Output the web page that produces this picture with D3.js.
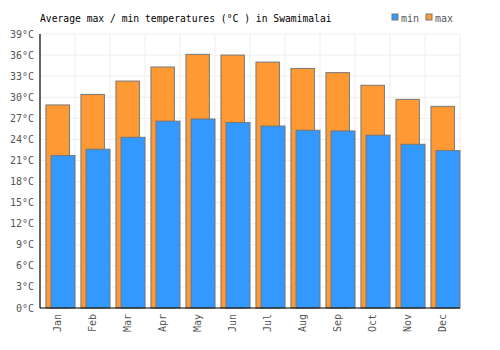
<!DOCTYPE html>
<html>
<head>
<meta charset="utf-8">
<script src="https://cdn.jsdelivr.net/npm/d3@7"></script>
<style>
  body { margin: 0; background: #fff; }
  text { font-family: "DejaVu Sans Mono", "Liberation Mono", monospace; }
</style>
</head>
<body>
<div id="chart"></div>
<script>
const months = ["Jan", "Feb", "Mar", "Apr", "May", "Jun", "Jul", "Aug", "Sep", "Oct", "Nov", "Dec"];
const maxTemps = [28.9, 30.4, 32.3, 34.3, 36.1, 36.0, 35.0, 34.1, 33.5, 31.7, 29.7, 28.7];
const minTemps = [21.7, 22.6, 24.3, 26.6, 26.9, 26.4, 25.9, 25.3, 25.2, 24.6, 23.3, 22.4];
const yTicks = [0, 3, 6, 9, 12, 15, 18, 21, 24, 27, 30, 33, 36, 39];

const width = 500;
const height = 350;
const margin = { top: 34, right: 40, bottom: 42, left: 40 };
const innerW = width - margin.left - margin.right;
const innerH = height - margin.top - margin.bottom;

const svg = d3.select('#chart')
    .append('svg')
    .attr('width', width)
    .attr('height', height);

const g = svg.append('g')
    .attr('transform', `translate(${margin.left},${margin.top})`);

const x = d3.scaleBand()
    .domain(months)
    .range([0, innerW]);

const y = d3.scaleLinear()
    .domain([0, 39])
    .range([innerH, 0]);

// grid
g.selectAll('.hgrid')
    .data(yTicks)
    .enter()
    .append('line')
    .attr('x1', 0)
    .attr('x2', innerW)
    .attr('y1', d => y(d))
    .attr('y2', d => y(d))
    .attr('stroke', '#eeeeee')
    .attr('stroke-width', 1);

g.selectAll('.vgrid')
    .data(months.map((m, i) => i + 1))
    .enter()
    .append('line')
    .attr('x1', d => d * x.bandwidth())
    .attr('x2', d => d * x.bandwidth())
    .attr('y1', 0)
    .attr('y2', innerH)
    .attr('stroke', '#eeeeee')
    .attr('stroke-width', 1);

const bw = x.bandwidth();

// max bars (behind)
g.selectAll('.maxbar')
    .data(maxTemps)
    .enter()
    .append('rect')
    .attr('x', (d, i) => x(months[i]) + bw * 0.17)
    .attr('y', d => y(d))
    .attr('width', bw * 0.67)
    .attr('height', d => innerH - y(d))
    .attr('fill', '#ff9933')
    .attr('stroke', '#777777')
    .attr('stroke-width', 1);

// min bars (front)
g.selectAll('.minbar')
    .data(minTemps)
    .enter()
    .append('rect')
    .attr('x', (d, i) => x(months[i]) + bw * 0.315)
    .attr('y', d => y(d))
    .attr('width', bw * 0.685)
    .attr('height', d => innerH - y(d))
    .attr('fill', '#3399ff')
    .attr('stroke', '#777777')
    .attr('stroke-width', 1);

// axes lines
g.append('line')
    .attr('x1', 0).attr('x2', 0)
    .attr('y1', 0).attr('y2', innerH)
    .attr('stroke', '#000').attr('stroke-width', 1.2);
g.append('line')
    .attr('x1', 0).attr('x2', innerW)
    .attr('y1', innerH).attr('y2', innerH)
    .attr('stroke', '#000').attr('stroke-width', 1.2);

// y tick labels
g.selectAll('.ylab')
    .data(yTicks)
    .enter()
    .append('text')
    .attr('x', -6)
    .attr('y', d => y(d))
    .attr('dy', '0.35em')
    .attr('text-anchor', 'end')
    .attr('fill', '#555')
    .style('font-size', '10px')
    .text(d => d + '°C');

// x tick labels
g.selectAll('.xlab')
    .data(months)
    .enter()
    .append('text')
    .attr('transform', d => `translate(${x(d) + bw / 2},${innerH + 6}) rotate(-90)`)
    .attr('dy', '0.35em')
    .attr('text-anchor', 'end')
    .attr('fill', '#555')
    .style('font-size', '10px')
    .text(d => d);

// title
svg.append('text')
    .attr('x', 40)
    .attr('y', 22)
    .attr('fill', '#000')
    .style('font-size', '9.7px')
    .text('Average max / min temperatures (°C ) in Swamimalai');

// legend
const legendData = [
    { label: 'min', color: '#3399ff', x: 392 },
    { label: 'max', color: '#ff9933', x: 426 }
];
const legend = svg.selectAll('.legend')
    .data(legendData)
    .enter()
    .append('g')
    .attr('transform', d => `translate(${d.x},14)`);

legend.append('rect')
    .attr('width', 6)
    .attr('height', 6)
    .attr('fill', d => d.color)
    .attr('stroke', '#777')
    .attr('stroke-width', 1);

legend.append('text')
    .attr('x', 9)
    .attr('y', 8)
    .attr('fill', '#555')
    .style('font-size', '10px')
    .text(d => d.label);
</script>
</body>
</html>
